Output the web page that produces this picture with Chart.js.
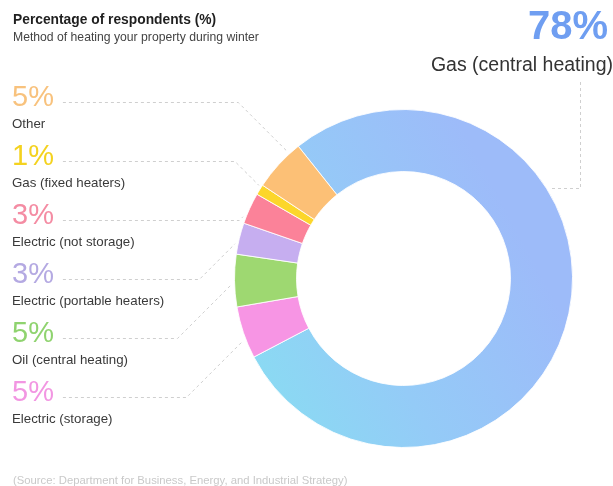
<!DOCTYPE html>
<html>
<head>
<meta charset="utf-8">
<script src="https://cdn.jsdelivr.net/npm/chart.js@4.4.1/dist/chart.umd.min.js"></script>
<style>
    html, body { margin: 0; padding: 0; background: #fff; }
    #chart { display: block; }
</style>
</head>
<body>
<canvas id="chart" width="613" height="486"></canvas>
<script>
// Data (clockwise from the top-left edge of the big slice)
const categories = ['Gas (central heating)', 'Electric (storage)', 'Oil (central heating)', 'Electric (portable heaters)', 'Electric (not storage)', 'Gas (fixed heaters)', 'Other'];
const percentages = [78, 5, 5, 3, 3, 1, 5];
const sliceColors = [null, '#f795e4', '#9ed871', '#c6aef0', '#fb8299', '#fcd62b', '#fcc076'];
const textColors = ['#6f9ef1', '#f296e2', '#8fd36f', '#b4a9e2', '#f48ca3', '#f4d21f', '#f8c27d'];

const titleText = 'Percentage of respondents (%)';
const subtitleText = 'Method of heating your property during winter';
const sourceText = '(Source: Department for Business, Energy, and Industrial Strategy)';

// where along each slice the leader line touches it (0 = start, 1 = end)
const anchorFraction = [0.345, 0.36, 0.43, 0.31, 0.18, 0.8, 0.78];

const FONT = '"Liberation Sans", Arial, Helvetica, sans-serif';

function blueGradient(context) {
    const chart = context.chart;
    const area = chart.chartArea;
    if (!area) return '#97c4f7';
    const ctx = chart.ctx;
    const g = ctx.createLinearGradient(area.left + 20, area.bottom - 40, area.right - 40, area.top + 150);
    g.addColorStop(0, '#89dcf2');
    g.addColorStop(0.45, '#94cbf7');
    g.addColorStop(1, '#9dbbf9');
    return g;
}

// labels, leader lines and header text
const labelPlugin = {
    id: 'labelPlugin',
    afterDatasetsDraw(chart) {
        const ctx = chart.ctx;
        const arcs = chart.getDatasetMeta(0).data;
        ctx.save();

        // header
        ctx.textBaseline = 'alphabetic';
        ctx.textAlign = 'left';
        ctx.fillStyle = '#1f1f1f';
        ctx.font = 'bold 13.8px ' + FONT;
        ctx.fillText(titleText, 13, 24);
        ctx.fillStyle = '#444';
        ctx.font = '12.2px ' + FONT;
        ctx.fillText(subtitleText, 13, 41);

        // source
        ctx.fillStyle = '#c9c9c9';
        ctx.font = '11.3px ' + FONT;
        ctx.fillText(sourceText, 13, 484);

        ctx.strokeStyle = '#cfcfcf';
        ctx.lineWidth = 1;
        ctx.setLineDash([3, 3]);

        function anchor(i) {
            const a = arcs[i];
            const ang = a.startAngle + (a.endAngle - a.startAngle) * anchorFraction[i];
            const r = a.outerRadius + 3;
            return { x: a.x + Math.cos(ang) * r, y: a.y + Math.sin(ang) * r };
        }

        // main slice label on the right
        ctx.textAlign = 'right';
        ctx.textBaseline = 'middle';
        ctx.fillStyle = textColors[0];
        ctx.font = 'bold 40px ' + FONT;
        ctx.fillText(percentages[0] + '%', 608, 28);
        ctx.fillStyle = '#333';
        ctx.font = '19.5px ' + FONT;
        ctx.fillText(categories[0], 613, 66);

        let p = anchor(0);
        ctx.beginPath();
        ctx.moveTo(580.5, 82);
        ctx.lineTo(580.5, Math.round(p.y) + 0.5);
        ctx.lineTo(p.x, Math.round(p.y) + 0.5);
        ctx.stroke();

        // side labels, top to bottom is last index to index 1
        for (let i = categories.length - 1; i >= 1; i--) {
            const row = categories.length - 1 - i;
            const y = 98 + row * 59;
            ctx.textAlign = 'left';
            ctx.textBaseline = 'middle';
            ctx.fillStyle = textColors[i];
            ctx.font = '29px ' + FONT;
            const txt = percentages[i] + '%';
            ctx.fillText(txt, 12, y);
            const w = ctx.measureText(txt).width;
            ctx.fillStyle = '#3a3a3a';
            ctx.font = '13.3px ' + FONT;
            ctx.fillText(categories[i], 12, y + 26);

            p = anchor(i);
            const ly = Math.round(y + 4) + 0.5;
            const elbow = Math.max(p.x - Math.abs(p.y - ly), 12 + w + 20);
            ctx.beginPath();
            ctx.moveTo(12 + w + 9, ly);
            ctx.lineTo(elbow, ly);
            ctx.lineTo(p.x, p.y);
            ctx.stroke();
        }
        ctx.restore();
    }
};

const config = {
    type: 'doughnut',
    data: {
        labels: categories,
        datasets: [{
            data: percentages,
            backgroundColor: function (context) {
                if (context.dataIndex === 0) return blueGradient(context);
                return sliceColors[context.dataIndex];
            },
            borderColor: 'rgba(255,255,255,0.85)',
            borderWidth: 1,
            hoverOffset: 0
        }]
    },
    options: {
        responsive: false,
        animation: false,
        events: [],
        rotation: -38.5,
        cutout: '63.3%',
        layout: {
            padding: { left: 234, right: 40, top: 109, bottom: 38 }
        },
        plugins: {
            legend: { display: false },
            tooltip: { enabled: false },
            title: { display: false }
        }
    },
    plugins: [labelPlugin]
};

new Chart(document.getElementById('chart'), config);
</script>
</body>
</html>
